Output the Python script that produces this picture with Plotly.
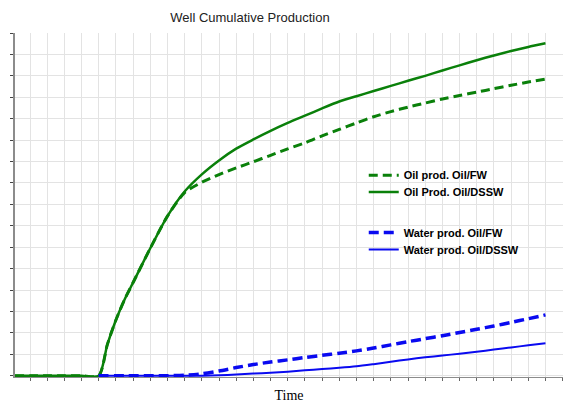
import plotly.graph_objects as go

# Simulation time (grid units); finer steps around first production
time = [-0.873, 0, 1, 2, 3, 4, 4.5, 5, 5.5, 6, 7, 8, 9, 10, 11, 12, 13, 14, 15,
        16, 17, 18, 19, 20, 21, 22, 23, 24, 25, 26, 27, 28, 29, 30]

oil_fw = [0, 0, 0, 0, 0, 0, 1.45, 2.6, 3.55, 4.35, 5.95, 7.45, 8.55, 9.03,
          9.39, 9.7, 9.99, 10.29, 10.59, 10.87, 11.2, 11.5, 11.8, 12.09,
          12.33, 12.54, 12.73, 12.92, 13.08, 13.24, 13.4, 13.56, 13.71, 13.85]

oil_dssw = [0, 0, 0, 0, 0, 0, 1.45, 2.6, 3.55, 4.35, 5.95, 7.45, 8.6, 9.4,
            10.05, 10.6, 11.03, 11.43, 11.8, 12.14, 12.48, 12.8, 13.05,
            13.29, 13.53, 13.77, 14.0, 14.25, 14.49, 14.73, 14.95, 15.16,
            15.35, 15.52]

water_fw = [None, None, None, None, None, 0, 0, 0, 0, 0, 0, 0, 0.02, 0.09,
            0.22, 0.38, 0.52, 0.64, 0.74, 0.85, 0.95, 1.05, 1.16, 1.29, 1.44,
            1.59, 1.73, 1.87, 2.02, 2.17, 2.32, 2.49, 2.66, 2.84]

water_dssw = [None, None, None, None, None, 0, 0, 0, 0, 0, 0, 0, 0, 0, 0.02,
              0.06, 0.1, 0.14, 0.19, 0.25, 0.31, 0.37, 0.44, 0.54, 0.65,
              0.76, 0.86, 0.94, 1.03, 1.12, 1.22, 1.32, 1.42, 1.52]

names = ["Oil prod. Oil/FW", "Oil Prod. Oil/DSSW",
         "Water prod. Oil/FW", "Water prod. Oil/DSSW"]

GREEN = "rgb(10,128,10)"
BLUE = "rgb(10,10,240)"

styles = [
    dict(color=GREEN, width=3, dash="9px,5px"),
    dict(color=GREEN, width=2.5),
    dict(color=BLUE, width=3.5, dash="10px,5px"),
    dict(color=BLUE, width=2),
]

series = [oil_fw, oil_dssw, water_fw, water_dssw]
legend_ids = ["legend", "legend2", "legend3", "legend4"]

fig = go.Figure()
for vals, name, style, lg in zip(series, names, styles, legend_ids):
    fig.add_trace(go.Scatter(x=time, y=vals, mode="lines", name=name,
                             legend=lg,
                             line=dict(shape="spline", smoothing=0.7, **style)))

legend_font = dict(family="Liberation Sans, Arial", size=11, color="black",
                   weight="bold")
legend_tops = [0.6288, 0.5800, 0.4622, 0.4128]
legend_layout = {}
for lg, top in zip(legend_ids, legend_tops):
    legend_layout[lg] = dict(x=0.6364, xanchor="left", y=top, yanchor="top",
                             bgcolor="rgba(0,0,0,0)", font=legend_font)

fig.update_layout(
    width=563, height=407,
    margin=dict(l=15, r=0, t=33, b=30),
    paper_bgcolor="white", plot_bgcolor="white",
    title=dict(text="Well Cumulative Production", x=0.444, xanchor="center",
               y=0.957, yanchor="middle",
               font=dict(family="Liberation Sans, Arial", size=13, color="#222")),
    showlegend=True,
    **legend_layout,
)

fig.update_xaxes(range=[-0.873, 31.02], dtick=1, tick0=0, showticklabels=False,
                 showgrid=True, gridcolor="#e3e3e3", gridwidth=1, zeroline=False,
                 showline=True, linecolor="#8c8c8c", linewidth=1,
                 ticks="outside", ticklen=3, tickcolor="#666",
                 title=dict(text="Time", standoff=10,
                            font=dict(family="Liberation Serif, Times New Roman",
                                      size=14, color="black")))
fig.update_yaxes(range=[-0.06, 16], dtick=1, tick0=0, showticklabels=False,
                 showgrid=True, gridcolor="#e3e3e3", gridwidth=1, zeroline=False,
                 showline=True, linecolor="#8c8c8c", linewidth=2,
                 ticks="outside", ticklen=3, tickcolor="#444")

fig.write_html("out.html")
